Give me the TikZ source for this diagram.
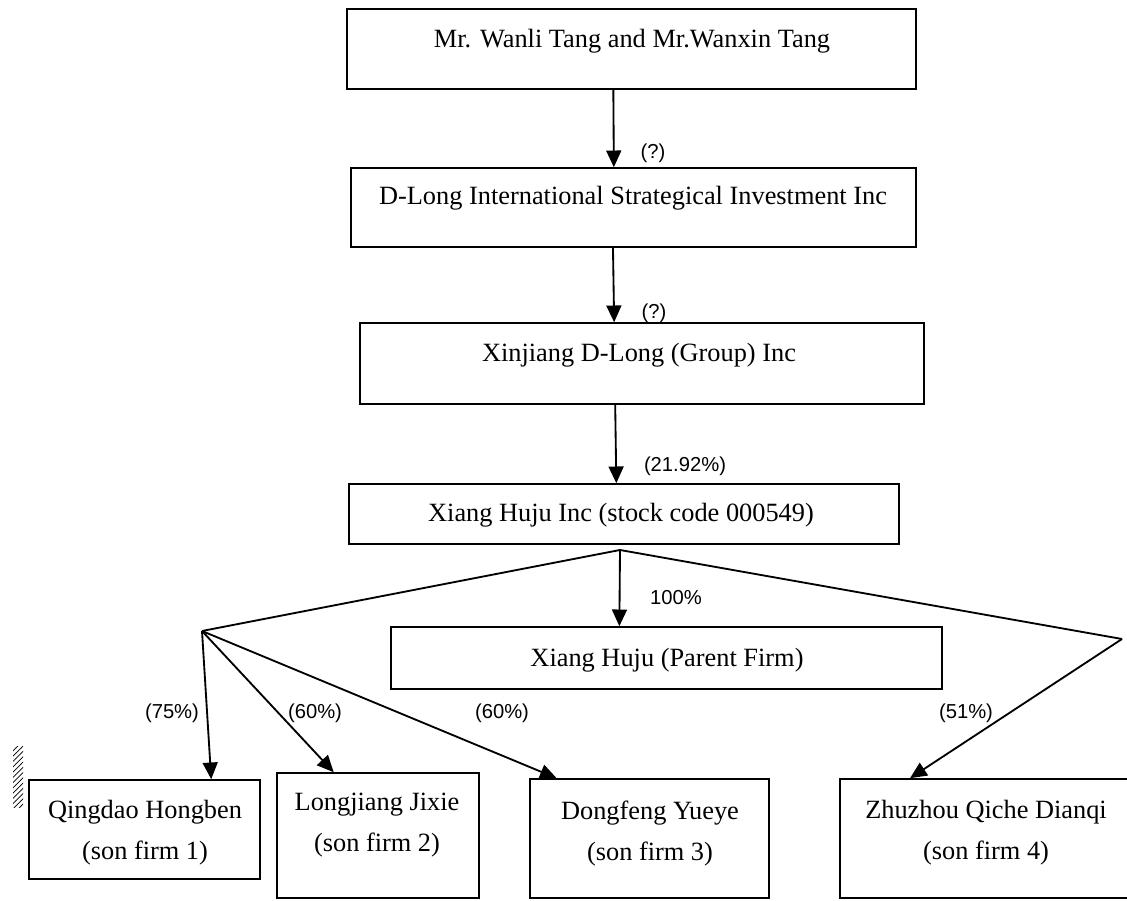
\documentclass[tikz,border=0pt]{standalone}
\usepackage{fontspec}
\setmainfont{Liberation Serif}
\newfontfamily\sharefont{Liberation Sans}
\usetikzlibrary{arrows.meta,patterns}
\tikzset{
    Firm/.style = {draw,line width=0.9pt,inner sep=0pt},
    Name/.style = {font=\fontsize{15}{23.8}\selectfont,align=center,anchor=base,inner sep=0pt},
    Share/.style = {font=\sharefont\fontsize{11.5}{13}\selectfont,inner sep=0pt},
    Owns/.style = {line width=1.05pt,-{Triangle[length=9.5pt,width=8.5pt]}}
}

\begin{document}
\begin{tikzpicture}[x=0.02cm,y=-0.02cm]
        \clip (0,0) rectangle (1127,901);
        % boxes
        \node[Firm,minimum width=11.38cm,minimum height=1.6cm] (owners) at (631.5,49) {};
        \node[Firm,minimum width=11.3cm,minimum height=1.58cm] (dlong) at (633.5,207.5) {};
        \node[Firm,minimum width=11.28cm,minimum height=1.62cm] (xinjiang) at (642,363.5) {};
        \node[Firm,minimum width=11cm,minimum height=1.2cm] (huju) at (624,514) {};
        \node[Firm,minimum width=11.02cm,minimum height=1.24cm] (parent) at (666.5,658) {};
        \node[Firm,minimum width=4.62cm,minimum height=1.98cm] (qingdao) at (144.5,829.5) {};
        \node[Firm,minimum width=4.04cm,minimum height=2.5cm] (longjiang) at (378,835.5) {};
        \node[Firm,minimum width=4.78cm,minimum height=2.38cm] (dongfeng) at (649.5,838.5) {};
        \node[Firm,minimum width=6cm,minimum height=2.38cm] (zhuzhou) at (990,838.5) {};
        % names (anchor is the last baseline)
        \node[Name] (ownersT) at (632,48) {Mr. Wanli Tang and Mr.Wanxin Tang};
        \node[Name] (dlongT) at (633,205) {D-Long International Strategical Investment Inc};
        \node[Name] (xinjiangT) at (639,362) {Xinjiang D-Long (Group) Inc};
        \node[Name] (hujuT) at (621,522) {Xiang Huju Inc (stock code 000549)};
        \node[Name] (parentT) at (667,667) {Xiang Huju (Parent Firm)};
        \node[Name] (qingdaoT) at (145,860) {Qingdao Hongben\\(son firm 1)};
        \node[Name] (longjiangT) at (377,852) {Longjiang Jixie\\(son firm 2)};
        \node[Name] (dongfengT) at (650,861) {Dongfeng Yueye\\(son firm 3)};
        \node[Name] (zhuzhouT) at (986,860) {Zhuzhou Qiche Dianqi\\(son firm 4)};
        % chain
        \draw[Owns] (owners.246.4) -- (dlong.116.3);
        \draw[Owns] (dlong.243.7) -- (xinjiang.124.7);
        \draw[Owns] (xinjiang.237.3) -- (huju.104.9);
        \coordinate (jM) at (620,550);
        \coordinate (jL) at (202,631);
        \coordinate (jR) at (1122,639);
        \draw[line width=1.05pt] (jL) -- (jM) -- (jR);
        \draw[Owns] (jM) -- (parent.146.3);
        \draw[Owns] (jL) -- (qingdao.37.9);
        \draw[Owns] (jL) -- (longjiang.125.8);
        \draw[Owns] (jL) -- (dongfeng.147.9);
        \draw[Owns] (jR) -- (zhuzhou.143.4);
        % shares
        \foreach \p/\t [count=\i] in {{653,153}/(?),{654,313}/(?),{685,466}/(21.92\%),
            {676,598}/100\%,{172,713}/(75\%),{315,713}/(60\%),{502,713}/(60\%),{966,713}/(51\%)}
            {\node[Share] (share\i) at (\p) {\t};}
        \fill[pattern=north east lines] (13,747) rectangle (23,808);
\end{tikzpicture}
\end{document}
